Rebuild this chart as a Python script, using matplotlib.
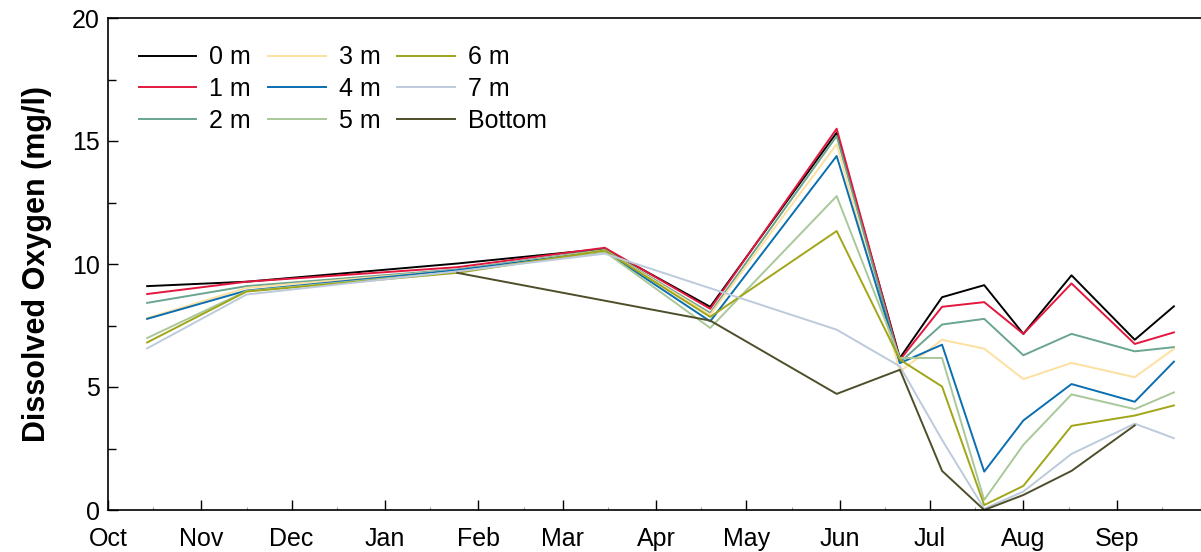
import matplotlib
matplotlib.use("Agg")
import matplotlib.pyplot as plt
import matplotlib.dates as mdates
from datetime import date

plt.rcParams['font.family'] = ['Liberation Sans', 'DejaVu Sans']

# Sampling dates
sample_dates = ["2000-10-14", "2000-11-16", "2001-01-25", "2001-03-15", "2001-04-19",
                "2001-05-31", "2001-06-21", "2001-07-05", "2001-07-19", "2001-08-01",
                "2001-08-17", "2001-09-07", "2001-09-20"]
dates_7m = ["2000-10-14", "2000-11-16", "2001-01-25", "2001-03-15",
            "2001-05-31", "2001-06-21", "2001-07-05", "2001-07-19", "2001-08-01",
            "2001-08-17", "2001-09-07", "2001-09-20"]
dates_bottom = ["2001-01-25", "2001-04-19", "2001-05-31", "2001-06-21", "2001-07-05",
                "2001-07-19", "2001-08-01", "2001-08-17", "2001-09-07"]

# Dissolved oxygen (mg/l) by depth
do_0m = [9.10, 9.28, 10.02, 10.62, 8.26, 15.34, 6.18, 8.65, 9.14, 7.16, 9.54, 6.92, 8.28]
do_1m = [8.78, 9.28, 9.87, 10.66, 8.18, 15.50, 6.10, 8.26, 8.45, 7.16, 9.21, 6.75, 7.22]
do_2m = [8.42, 9.10, 9.78, 10.58, 8.01, 15.20, 6.00, 7.54, 7.77, 6.29, 7.16, 6.45, 6.62]
do_3m = [7.80, 9.03, 9.75, 10.55, 7.94, 14.87, 5.63, 6.92, 6.56, 5.32, 5.98, 5.40, 6.55]
do_4m = [7.77, 8.92, 9.75, 10.52, 7.67, 14.39, 5.97, 6.72, 1.56, 3.64, 5.12, 4.40, 6.03]
do_5m = [6.99, 8.90, 9.68, 10.50, 7.40, 12.76, 6.18, 6.18, 0.41, 2.65, 4.70, 4.10, 4.78]
do_6m = [6.81, 8.88, 9.64, 10.55, 7.85, 11.34, 6.11, 5.02, 0.20, 0.98, 3.42, 3.84, 4.25]
do_7m = [6.57, 8.76, 9.70, 10.42, 7.33, 5.84, 2.85, 0.05, 0.75, 2.28, 3.51, 2.92]
do_bottom = [9.64, 7.70, 4.72, 5.70, 1.59, 0.00, 0.61, 1.59, 3.44]

labels = ["0 m", "1 m", "2 m", "3 m", "4 m", "5 m", "6 m", "7 m", "Bottom"]
colors = ["#000000", "#e3173e", "#6aa58e", "#fde0a0", "#0a6eb0",
          "#a9c89a", "#a0a618", "#bccadb", "#4e4e2a"]


def to_dates(lst):
    return [date.fromisoformat(s) for s in lst]


series = [
    (sample_dates, do_0m), (sample_dates, do_1m), (sample_dates, do_2m),
    (sample_dates, do_3m), (sample_dates, do_4m), (sample_dates, do_5m),
    (sample_dates, do_6m), (dates_7m, do_7m), (dates_bottom, do_bottom),
]

fig = plt.figure(figsize=(12.01, 5.52), dpi=100)
ax = fig.add_axes([108 / 1201, 1 - 510 / 552, 1 - 108 / 1201, (510 - 18) / 552])

for (d, v), lab, col in zip(series, labels, colors):
    ax.plot(to_dates(d), v, color=col, lw=1.4, label=lab)

ax.set_xlim(date(2000, 10, 1), date(2001, 9, 29))
ax.set_ylim(0, 20)

ax.xaxis.set_major_locator(mdates.MonthLocator())
ax.xaxis.set_major_formatter(mdates.DateFormatter('%b'))
ax.xaxis.set_minor_locator(mdates.MonthLocator(bymonthday=16))
ax.set_yticks([0, 5, 10, 15, 20])
ax.set_yticks([2.5, 7.5, 12.5, 17.5], minor=True)

ax.tick_params(axis='both', which='major', direction='in', length=7, width=1,
               labelsize=18)
ax.tick_params(axis='x', which='major', pad=12)
ax.tick_params(axis='x', which='minor', direction='in', length=2, width=0.8,
               color='#999999')
ax.tick_params(axis='y', which='minor', direction='in', length=6, width=1)
ax.tick_params(axis='y', which='major', pad=6)

for s in ['left', 'bottom', 'top']:
    ax.spines[s].set_linewidth(1.2)
ax.spines['right'].set_visible(False)

ax.set_ylabel("Dissolved Oxygen (mg/l)", fontsize=22, fontweight='bold', labelpad=14)

leg = ax.legend(ncol=3, loc='upper left', bbox_to_anchor=(0.003, 1.0), frameon=False,
                fontsize=18, handlelength=2.3, handletextpad=0.52, columnspacing=0.68,
                labelspacing=0.3, borderaxespad=0.7)

fig.savefig("out.png", dpi=100)
